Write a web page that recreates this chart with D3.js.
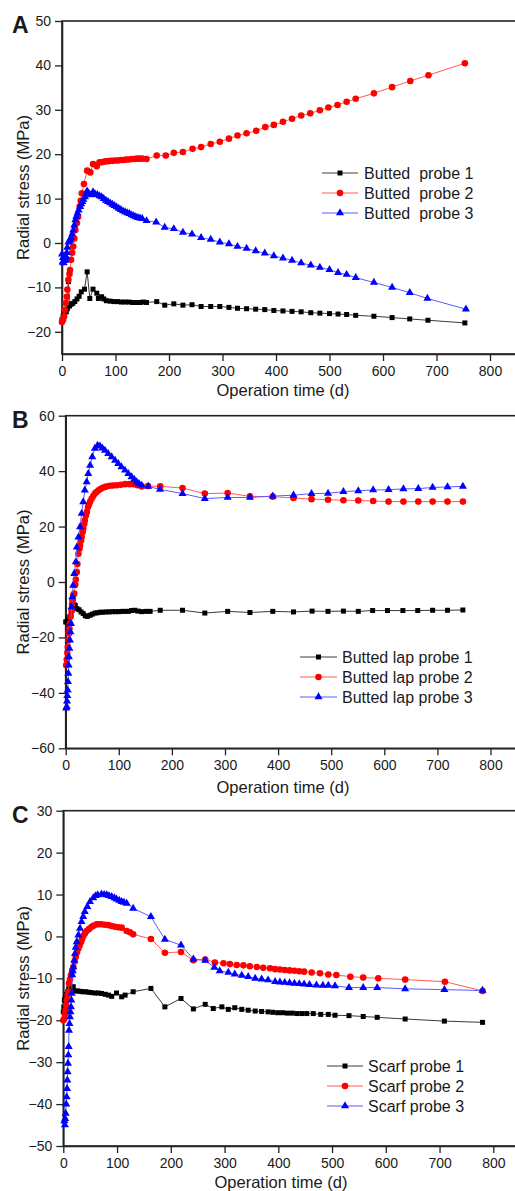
<!DOCTYPE html>
<html>
<head>
<meta charset="utf-8">
<script src="https://cdn.jsdelivr.net/npm/d3@7"></script>
<style>
body { margin: 0; background: #fff; overflow: hidden; }
svg text { font-family: "Liberation Sans", Arial, sans-serif; fill: #1a1a1a; }
.legend text { white-space: pre; }
</style>
</head>
<body>
<div id="chart"></div>
<script>
// ---- tick labels ----
var xTicks = [0, 100, 200, 300, 400, 500, 600, 700, 800];
var yTicksA = [-20, -10, 0, 10, 20, 30, 40, 50];
var yTicksB = [-60, -40, -20, 0, 20, 40, 60];
var yTicksC = [-50, -40, -30, -20, -10, 0, 10, 20, 30];

// ---- legend names ----
var namesA = ["Butted  probe 1", "Butted  probe 2", "Butted  probe 3"];
var namesB = ["Butted lap probe 1", "Butted lap probe 2", "Butted lap probe 3"];
var namesC = ["Scarf probe 1", "Scarf probe 2", "Scarf probe 3"];

// ---- panel A: [day, MPa] ----
var aProbe1 = [[0,-17.3],[2,-16.5],[4,-15.8],[6,-15.2],[8,-15.5],[10,-14.8],[12,-8.7],[14,-14.2],[17,-13.8],[20,-13.6],[24,-13.2],[28,-12.6],[32,-12.0],[36,-11.0],[42,-10.4],[47,-6.5],[52,-12.5],[58,-10.4],[65,-11.3],[68,-12.5],[74,-12.1],[78,-12.6],[83,-13.0],[90,-13.1],[97,-13.2],[104,-13.2],[111,-13.3],[118,-13.3],[125,-13.3],[132,-13.4],[139,-13.4],[146,-13.4],[152,-13.3],[158,-13.4],[177,-13.2],[192,-14.0],[209,-13.7],[226,-14.0],[243,-13.9],[260,-14.3],[278,-14.3],[295,-14.3],[312,-14.5],[328,-14.7],[345,-14.8],[362,-14.9],[379,-15.0],[396,-15.2],[413,-15.3],[430,-15.4],[447,-15.5],[465,-15.7],[482,-15.8],[500,-15.9],[516,-16.0],[532,-16.1],[549,-16.3],[583,-16.5],[617,-16.8],[650,-17.1],[684,-17.4],[753,-18.0]];
var aProbe2 = [[0,-17.8],[2,-17.3],[4,-16.5],[5,-15.1],[7,-13.5],[9,-12.1],[10,-10.5],[12,-8.3],[14,-7.0],[15,-6.1],[17,-3.8],[19,-2.2],[21,-0.8],[23,1.0],[25,2.9],[28,4.5],[30,5.9],[33,8.2],[35,9.5],[37,11.2],[41,13.3],[47,16.3],[53,15.9],[58,17.8],[65,17.3],[70,18.2],[74,18.2],[78,18.3],[82,18.4],[86,18.4],[90,18.5],[95,18.5],[100,18.6],[105,18.6],[110,18.7],[115,18.7],[120,18.8],[125,18.8],[130,18.9],[135,18.9],[140,19.0],[145,19.0],[150,19.0],[158,18.9],[177,19.7],[194,19.7],[209,20.3],[226,20.5],[244,21.2],[260,21.6],[278,22.3],[295,22.8],[312,23.5],[328,24.2],[345,24.7],[363,25.3],[380,26.1],[396,26.6],[413,27.3],[430,28.0],[447,28.7],[464,29.2],[482,29.9],[498,30.5],[515,31.1],[532,31.8],[549,32.5],[583,33.7],[617,35.1],[651,36.5],[685,37.8],[753,40.5]];
var aProbe3 = [[0,-2.5],[1,-4.3],[2,-3.3],[3,-4.5],[4,-3.0],[5,-4.0],[6,-2.8],[7,-3.8],[8,-3.2],[9,-2.2],[10,-1.0],[12,0.2],[14,0.4],[15,0.7],[17,1.2],[19,2.0],[21,2.9],[23,4.0],[25,5.2],[27,6.0],[29,6.7],[31,7.4],[34,8.2],[36,8.8],[38,9.3],[40,9.8],[43,10.4],[45,11.0],[47,11.7],[50,11.2],[54,10.8],[58,11.5],[62,11.0],[66,10.9],[70,10.6],[74,10.4],[78,10.0],[82,9.6],[86,9.3],[90,9.0],[94,8.7],[98,8.4],[102,8.1],[106,7.8],[110,7.5],[114,7.2],[118,7.0],[122,6.8],[126,6.6],[130,6.3],[134,6.1],[138,5.9],[142,5.7],[146,5.6],[150,5.5],[158,5.0],[176,4.7],[192,3.5],[209,3.2],[226,2.4],[243,2.0],[260,1.2],[278,0.8],[295,0.2],[312,-0.2],[328,-0.8],[345,-1.2],[362,-1.8],[379,-2.3],[396,-2.9],[413,-3.4],[430,-3.9],[447,-4.5],[465,-5.0],[482,-5.5],[500,-6.0],[516,-6.7],[532,-7.1],[549,-7.8],[583,-8.9],[617,-10.0],[650,-11.2],[683,-12.5],[755,-14.9]];

// ---- panel B ----
var bProbe1 = [[0,-14.4],[2,-14.4],[4,-13.5],[6,-12.8],[8,-12.6],[10,-11.8],[12,-10.2],[14,-9.0],[16,-8.2],[18,-8.5],[21,-9.6],[25,-10.0],[29,-10.8],[33,-11.4],[37,-12.2],[41,-12.4],[46,-12.0],[50,-11.6],[55,-11.2],[60,-11.1],[65,-10.9],[70,-10.9],[76,-10.8],[82,-10.8],[88,-10.7],[94,-10.7],[100,-10.7],[106,-10.6],[112,-10.6],[118,-10.6],[124,-10.3],[130,-10.2],[136,-10.5],[143,-10.7],[152,-10.6],[159,-10.6],[178,-10.2],[220,-10.2],[262,-11.2],[305,-10.6],[347,-11.0],[390,-10.6],[429,-10.8],[464,-10.5],[494,-10.6],[523,-10.5],[551,-10.6],[578,-10.3],[606,-10.3],[635,-10.3],[663,-10.3],[691,-10.2],[719,-10.2],[748,-10.1]];
var bProbe2 = [[1,-30],[2,-28],[3,-25.5],[4,-23.5],[5,-21],[6,-18.6],[7,-16.8],[8,-15],[9,-12.5],[11,-10.2],[12,-8.0],[13,-6.6],[14,-4.8],[16,-4.2],[18,-1.0],[19,0.9],[21,3.6],[22,6.5],[24,10.2],[26,12.0],[27,13.2],[29,15.0],[30,16.2],[32,18.0],[33,19.3],[35,21.0],[36,22.3],[38,24.0],[40,25.3],[42,27.0],[44,28.0],[46,29.0],[49,30.1],[52,31.0],[55,31.9],[58,32.5],[62,33.1],[66,33.6],[71,34.1],[76,34.4],[83,34.7],[89,34.8],[96,34.9],[104,35.1],[112,35.3],[120,35.3],[127,35.3],[135,34.9],[143,34.5],[155,34.6],[178,34.5],[220,33.9],[262,31.9],[305,32.1],[347,30.9],[390,30.8],[429,30.3],[463,29.9],[494,29.7],[523,29.5],[551,29.4],[579,29.2],[608,29.0],[636,29.0],[664,29.0],[691,29.0],[719,29.0],[748,29.0]];
var bProbe3 = [[1,-45.5],[2,-45],[2.5,-43],[3,-41],[3.8,-39],[4.4,-36],[5,-33],[5.5,-30],[6,-27],[7,-24],[8,-21],[9,-18],[10,-15],[11,-9],[12.5,-5.4],[14,-1.2],[16,3],[19,7.2],[21,12.6],[24,16.2],[27,19.9],[30,24.7],[33,28.9],[36,33.1],[39.5,36.1],[42.5,39.1],[46,42.1],[50,45.1],[55,48.2],[60,49.3],[64.6,49.0],[69,48.3],[74,47.5],[80,46.3],[86.6,45.1],[93,43.9],[99,42.7],[105,41.5],[111.7,40.3],[118,39.1],[124,37.9],[129,37.0],[133.7,36.1],[138,35.5],[143,34.9],[155.5,34.5],[177.6,33.4],[220,31.9],[262,30.1],[305,30.5],[347,30.5],[390,31.0],[429,31.3],[463,31.9],[494,32.0],[523,32.6],[551,32.9],[579,33.2],[608,33.3],[636,33.6],[664,33.7],[691,34.1],[719,34.3],[748,34.5]];

// ---- panel C ----
var cProbe1 = [[0,-18.0],[1,-16.8],[2,-15.2],[4,-14.5],[6,-13.8],[8,-13.2],[10,-12.5],[12.5,-11.9],[15,-12.2],[18.6,-12.0],[21.8,-13.0],[26,-13.0],[31,-13.1],[36,-13.2],[41,-13.2],[46.5,-13.3],[52,-13.4],[59,-13.5],[65,-13.5],[71,-13.6],[78,-13.8],[84,-14.0],[90,-14.3],[99,-13.5],[108.6,-14.4],[115,-14.0],[130,-13.2],[163,-12.4],[189,-16.8],[219,-14.8],[242,-17.3],[264,-16.2],[279,-17.2],[295,-16.8],[307,-17.4],[319,-17.0],[332,-17.4],[344,-17.6],[357,-17.8],[369,-17.9],[381,-18.0],[390,-18.1],[399,-18.2],[408,-18.2],[417,-18.3],[426,-18.3],[435,-18.4],[444,-18.4],[453,-18.4],[465,-18.4],[479,-18.6],[493,-18.6],[505.5,-18.8],[531.5,-18.9],[558,-19.1],[584,-19.3],[636,-19.7],[709,-20.2],[780,-20.5]];
var cProbe2 = [[0,-20],[2,-19.6],[3,-18.5],[4.4,-17.6],[5.5,-16.5],[6.3,-15.2],[8,-14],[9.3,-13.2],[10.6,-11.2],[12.5,-10.2],[14.3,-9.2],[16.5,-8.2],[18.6,-7.3],[21,-6.0],[23,-4.9],[25.5,-3.8],[28,-2.9],[30.5,-2.1],[33,-1.3],[35,-0.6],[37,0.1],[40,0.7],[43.5,1.3],[48,1.8],[52.8,2.3],[57,2.6],[62,2.9],[66,2.9],[71,2.9],[77,2.8],[84,2.7],[90,2.5],[96,2.3],[102,2.2],[108.6,2.1],[118,1.3],[124,1.0],[130,0.5],[163,-0.6],[189,-3.9],[219,-3.7],[242,-5.7],[264,-5.5],[282,-6.2],[298,-6.4],[310,-6.6],[322.6,-6.8],[335,-6.9],[347,-7.1],[360,-7.3],[372,-7.5],[384.6,-7.6],[394,-7.8],[403,-7.9],[412,-8.0],[421,-8.1],[430,-8.2],[439,-8.3],[448,-8.4],[462,-8.6],[477.6,-8.8],[493,-9.1],[508,-9.2],[534,-9.6],[558,-9.8],[586,-10.0],[636,-10.3],[710,-10.8],[780,-13.0]];
var cProbe3 = [[2,-44],[3,-45],[3.5,-43.5],[4.4,-42.2],[5.4,-40],[6.3,-38.3],[7,-36.3],[7.5,-34.3],[8.1,-32.3],[8.7,-30.3],[9.4,-28.3],[10,-26.3],[10.6,-22.4],[11.5,-20.8],[12.4,-19.2],[13.3,-18.0],[14.3,-16.8],[15,-15.2],[15.6,-13.6],[16.7,-9.2],[17.6,-8.2],[18.6,-7.3],[20.5,-5.7],[21.8,-4.1],[23,-2.6],[25,-1.3],[28,0.3],[31,1.9],[34,3.5],[37,4.7],[40,5.9],[44.7,7.1],[49.7,8.3],[55.8,9.2],[60,9.7],[64,9.9],[71,10.1],[76,10.0],[80.7,9.9],[85,9.7],[90,9.5],[95,9.2],[99,8.9],[104,8.6],[108.6,8.3],[113,8.1],[118,7.9],[130,6.7],[163,4.7],[189,-0.7],[219,-2.1],[242,-5.4],[264,-5.7],[281,-7.4],[291,-8.2],[307,-8.6],[319,-9.0],[332,-9.3],[344,-9.6],[357,-10.0],[369,-10.2],[381,-10.4],[394,-10.8],[403,-10.9],[412,-11.0],[421,-11.1],[430,-11.2],[439,-11.3],[448,-11.4],[458,-11.5],[471,-11.6],[483,-11.7],[493,-11.7],[505.5,-11.8],[531.5,-12.2],[558,-12.2],[584,-12.2],[636,-12.5],[709,-12.7],[780,-12.9]];

// series look: black squares, red circles, blue triangles
var styles = [
	{ line: "#3a3a3a", fill: "#000", symbol: d3.symbolSquare, size: 25 },
	{ line: "#ff5a5a", fill: "#ff0000", symbol: d3.symbolCircle, size: 34 },
	{ line: "#5a5aff", fill: "#0000ff", symbol: d3.symbolTriangle, size: 28 }
];

// layout of the three stacked panels (pixel positions measured on the picture)
var panels = [
	{ label: "A", left: 62, top: 21, bottom: 354, xUnit: 0.535, yDomain: [-25, 50], yTicks: yTicksA,
		series: [aProbe1, aProbe2, aProbe3], names: namesA, legend: { x1: 322, x2: 358, tx: 364, y: 173, gap: 20 },
		titleY: 396, titleX: 283 },
	{ label: "B", left: 65.7, top: 415.7, bottom: 748.3, xUnit: 0.531, yDomain: [-60, 60], yTicks: yTicksB,
		series: [bProbe1, bProbe2, bProbe3], names: namesB, legend: { x1: 300, x2: 337, tx: 342, y: 657, gap: 20 },
		titleY: 793, titleX: 283 },
	{ label: "C", left: 63.3, top: 810.7, bottom: 1146, xUnit: 0.5375, yDomain: [-50, 30], yTicks: yTicksC,
		series: [cProbe1, cProbe2, cProbe3], names: namesC, legend: { x1: 327, x2: 363, tx: 368, y: 1066, gap: 20 },
		titleY: 1188, titleX: 281 }
];

var svg = d3.select("#chart").append("svg")
	.attr("width", 515)
	.attr("height", 1191);

panels.forEach(function (p) {
	// the frame runs past the right edge of the picture, so the x range goes beyond 515 px
	var x = d3.scaleLinear().domain([0, 900]).range([p.left, p.left + 900 * p.xUnit]);
	var y = d3.scaleLinear().domain(p.yDomain).range([p.bottom, p.top]);
	var g = svg.append("g");

	// frame
	g.append("rect")
		.attr("x", p.left)
		.attr("y", p.top)
		.attr("width", x(900) - p.left)
		.attr("height", p.bottom - p.top)
		.attr("fill", "none")
		.attr("stroke", "#222")
		.attr("stroke-width", 1.6);

	// bottom axis
	var ax = g.append("g")
		.attr("transform", "translate(0," + p.bottom + ")")
		.call(d3.axisBottom(x).tickValues(xTicks).tickSize(7).tickSizeOuter(0).tickPadding(5));
	// left axis
	var ay = g.append("g")
		.attr("transform", "translate(" + p.left + ",0)")
		.call(d3.axisLeft(y).tickValues(p.yTicks).tickSize(7).tickSizeOuter(0).tickPadding(4));

	[ax, ay].forEach(function (a) {
		a.select(".domain").attr("stroke", "#222").attr("stroke-width", 1.6);
		a.selectAll(".tick line").attr("stroke", "#222").attr("stroke-width", 1.3);
		a.selectAll(".tick text")
			.attr("font-size", 14)
			.attr("font-family", "Liberation Sans, Arial, sans-serif")
			.attr("fill", "#1a1a1a");
	});

	// axis titles
	g.append("text")
		.attr("x", p.titleX)
		.attr("y", p.titleY)
		.attr("text-anchor", "middle")
		.attr("font-size", 16.5)
		.text("Operation time (d)");

	g.append("text")
		.attr("transform", "translate(29," + (p.top + p.bottom) / 2 + ") rotate(-90)")
		.attr("text-anchor", "middle")
		.attr("font-size", 16.5)
		.text("Radial stress (MPa)");

	// panel letter
	g.append("text")
		.attr("x", 12)
		.attr("y", p.top + 12)
		.attr("font-size", 23)
		.attr("font-weight", "bold")
		.attr("fill", "#000")
		.text(p.label);

	var line = d3.line()
		.x(function (d) { return x(d[0]); })
		.y(function (d) { return y(d[1]); });

	// series: line first, then its markers
	p.series.forEach(function (data, i) {
		var s = styles[i];
		g.append("path")
			.datum(data)
			.attr("fill", "none")
			.attr("stroke", s.line)
			.attr("stroke-width", 1)
			.attr("d", line);

		g.append("g").selectAll("path")
			.data(data)
			.enter().append("path")
			.attr("transform", function (d) { return "translate(" + x(d[0]) + "," + y(d[1]) + ")"; })
			.attr("d", d3.symbol().type(s.symbol).size(s.size))
			.attr("fill", s.fill);
	});

	// legend
	var lg = g.append("g").attr("class", "legend");
	p.names.forEach(function (name, i) {
		var s = styles[i];
		var ly = p.legend.y + i * p.legend.gap;
		lg.append("line")
			.attr("x1", p.legend.x1).attr("x2", p.legend.x2)
			.attr("y1", ly).attr("y2", ly)
			.attr("stroke", s.line)
			.attr("stroke-width", 1);
		lg.append("path")
			.attr("transform", "translate(" + (p.legend.x1 + p.legend.x2) / 2 + "," + ly + ")")
			.attr("d", d3.symbol().type(s.symbol).size(s.size))
			.attr("fill", s.fill);
		lg.append("text")
			.attr("x", p.legend.tx)
			.attr("y", ly + 6)
			.attr("font-size", 16)
			.text(name);
	});
});
</script>
</body>
</html>
